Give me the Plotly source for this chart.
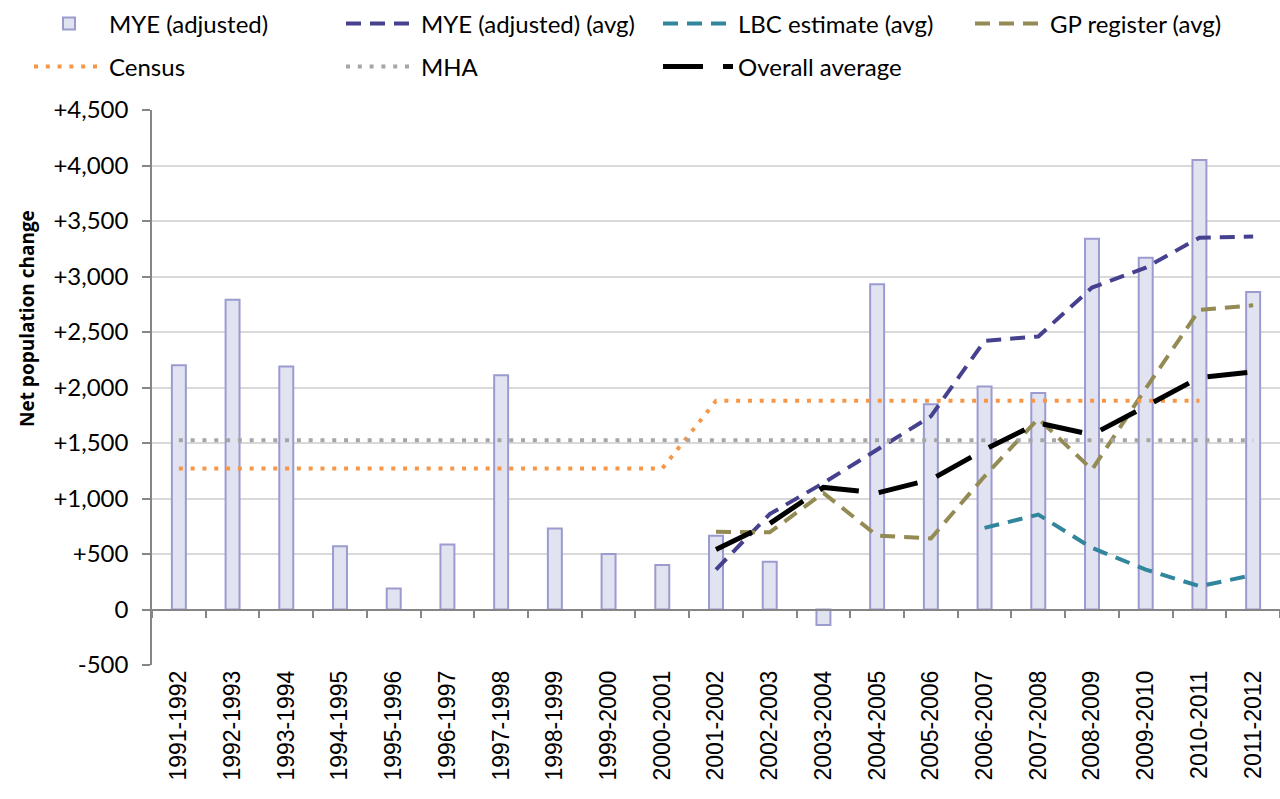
import plotly.graph_objects as go

periods = ["1991-1992", "1992-1993", "1993-1994", "1994-1995", "1995-1996", "1996-1997",
           "1997-1998", "1998-1999", "1999-2000", "2000-2001", "2001-2002", "2002-2003",
           "2003-2004", "2004-2005", "2005-2006", "2006-2007", "2007-2008", "2008-2009",
           "2009-2010", "2010-2011", "2011-2012"]

mye_adjusted = [2200, 2790, 2190, 570, 190, 585, 2110, 730, 500, 400, 665, 430,
                -140, 2930, 1850, 2010, 1950, 3340, 3170, 4050, 2860]
mye_avg = [None] * 10 + [360, 860, 1140, 1440, 1740, 2420, 2460, 2900, 3080, 3350, 3360]
lbc_avg = [None] * 15 + [735, 855, 555, 360, 210, 310]
gp_avg = [None] * 10 + [700, 695, 1050, 665, 640, 1200, 1720, 1260, 1990, 2700, 2740]
census = [1270] * 10 + [1880] * 10 + [None]
mha = [1525] * 21
overall_avg = [None] * 10 + [540, 775, 1100, 1050, 1170, 1440, 1680, 1575, 1830, 2090, 2140]

y_ticks = [-500, 0, 500, 1000, 1500, 2000, 2500, 3000, 3500, 4000, 4500]
y_ticktext = ["-500", "0", "+500", "+1,000", "+1,500", "+2,000", "+2,500",
              "+3,000", "+3,500", "+4,000", "+4,500"]

W, H = 1280, 799

# one legend per entry so every item can sit where Excel put it (x px, y px of row)
leg_pos = {
    "legend": (29, 24), "legend2": (341, 24), "legend3": (658, 24), "legend4": (970, 24),
    "legend5": (29, 67), "legend6": (341, 67), "legend7": (658, 67),
}

fig = go.Figure()

fig.add_trace(go.Bar(x=periods, y=mye_adjusted, name="MYE (adjusted)",
                     width=0.26, legend="legend",
                     marker=dict(color="#E1E3F1", line=dict(color="#9B9BD0", width=2))))

lines = [
    ("MYE (adjusted) (avg)", mye_avg, "#46418F", 4, "15px,9px", "legend2"),
    ("LBC estimate (avg)", lbc_avg, "#31859C", 4, "15px,9px", "legend3"),
    ("GP register (avg)", gp_avg, "#948A54", 4, "15px,9px", "legend4"),
    ("Census", census, "#F79646", 4, "4px,7.8px", "legend5"),
    ("MHA", mha, "#A6A6A6", 4, "4px,7.8px", "legend6"),
    ("Overall average", overall_avg, "#000000", 5, "40px,20px", "legend7"),
]
for name, vals, color, w, dash, leg in lines:
    fig.add_trace(go.Scatter(x=periods, y=vals, name=name, mode="lines", legend=leg,
                             line=dict(color=color, width=w, dash=dash)))

# invisible trace that carries the tick marks on the zero line
fig.add_trace(go.Scatter(x=periods, y=[None] * len(periods), xaxis="x2",
                         showlegend=False, hoverinfo="skip", mode="lines"))

for key, (px, py) in leg_pos.items():
    fig.update_layout({key: dict(orientation="h", xref="container", yref="container",
                                 x=px / W, y=1 - py / H, xanchor="left", yanchor="middle",
                                 itemwidth=70,
                                 font=dict(family="Lato", size=24, color="black"),
                                 bgcolor="rgba(0,0,0,0)")})

fig.update_layout(
    width=W, height=H,
    paper_bgcolor="white", plot_bgcolor="white",
    margin=dict(l=152, r=0, t=110, b=134),
    font=dict(family="Lato", size=20, color="black"),
    showlegend=True,
)

fig.update_xaxes(type="category", categoryarray=periods, range=[-0.5, 20.5],
                 tickangle=-90, ticks="", showline=False, showgrid=False, automargin=False,
                 tickfont=dict(family="Liberation Sans", size=23, color="black"))
fig.update_layout(xaxis2=dict(type="category", categoryarray=periods, range=[-0.5, 20.5],
                              overlaying="x", anchor="free", position=0.1,
                              showticklabels=False, ticks="outside", tickson="boundaries",
                              ticklen=8, tickwidth=1.5, tickcolor="#868686",
                              showline=True, linecolor="#868686", linewidth=1.5,
                              showgrid=False))
fig.update_yaxes(range=[-500, 4500], tickvals=y_ticks, ticktext=y_ticktext,
                 showgrid=True, gridcolor="#D9D9D9", gridwidth=1.5, automargin=False,
                 zeroline=False, showline=True, linecolor="#868686", linewidth=1.5,
                 ticks="outside", ticklen=8, tickcolor="#868686", tickwidth=1.5,
                 ticklabelstandoff=9,
                 tickfont=dict(family="Lato", size=24, color="black"))

fig.add_annotation(text="<b>Net population change</b>", textangle=-90,
                   xref="paper", yref="paper", x=(27 - 152) / 1128, y=(665 - 319) / 555,
                   xanchor="center", yanchor="middle", showarrow=False,
                   font=dict(family="Open Sans", size=19, color="black"))

# drop the browser's default body margin so the figure starts at the page corner
fig.write_html("out.html", config=dict(displayModeBar=False),
               post_script="document.body.style.margin='0px';")
